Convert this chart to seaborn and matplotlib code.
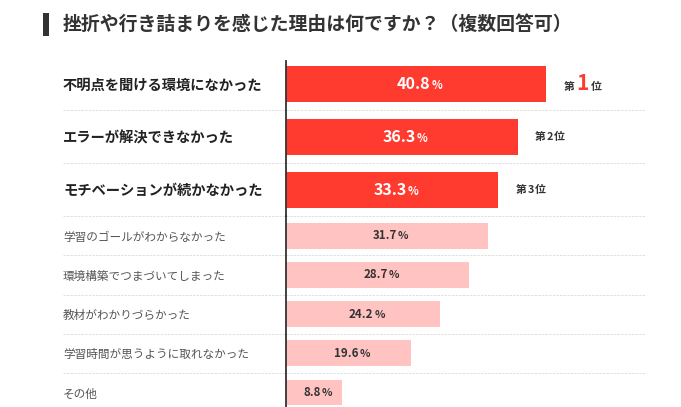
import matplotlib
matplotlib.use("Agg")
import matplotlib.pyplot as plt
import seaborn as sns
import pandas as pd
from matplotlib.offsetbox import TextArea, HPacker, AnnotationBbox
from matplotlib.transforms import blended_transform_factory
from matplotlib.patches import Rectangle

# ---- data ----
title = "挫折や行き詰まりを感じた理由は何ですか？（複数回答可）"
top_labels = ["不明点を聞ける環境になかった", "エラーが解決できなかった", "モチベーションが続かなかった"]
top_values = [40.8, 36.3, 33.3]
top_ranks = ["1", "2", "3"]
other_labels = ["学習のゴールがわからなかった", "環境構築でつまづいてしまった", "教材がわかりづらかった",
                "学習時間が思うように取れなかった", "その他"]
other_values = [31.7, 28.7, 24.2, 19.6, 8.8]

RED = "#ff3b30"
PINK = "#ffc3c1"

sns.set_theme(style="white")
plt.rcParams["font.family"] = ["Noto Sans CJK JP", "DejaVu Sans"]

W, H = 681, 407
fig = plt.figure(figsize=(W / 100, H / 100), dpi=100)
fig.patch.set_facecolor("white")

x0 = 286
ppu = 6.38
xmax = 60
axw = xmax * ppu / W


def px_axes(top_px, bottom_px):
    return [x0 / W, (H - bottom_px) / H, axw, (bottom_px - top_px) / H]


ax1 = fig.add_axes(px_axes(57.4, 216.1))
ax2 = fig.add_axes(px_axes(216.1, 412.1))

df_top = pd.DataFrame({"label": top_labels, "value": top_values})
df_oth = pd.DataFrame({"label": other_labels, "value": other_values})

sns.barplot(data=df_top, x="value", y="label", orient="h", color=RED, saturation=1,
            width=0.675, linewidth=0, ax=ax1)
sns.barplot(data=df_oth, x="value", y="label", orient="h", color=PINK, saturation=1,
            width=0.655, linewidth=0, ax=ax2)

pad_pt = (x0 - 63) * 72 / 100
for ax, n, fs, fw, col in [(ax1, 3, 10.3, "bold", "#222222"), (ax2, 5, 8.4, "normal", "#555555")]:
    ax.set_xlim(0, xmax)
    ax.set_ylim(n - 0.5, -0.5)
    ax.set_xlabel("")
    ax.set_ylabel("")
    ax.set_xticks([])
    ax.set_facecolor("none")
    for s in ["top", "right", "bottom"]:
        ax.spines[s].set_visible(False)
    ax.spines["left"].set_color("#333333")
    ax.spines["left"].set_linewidth(1.3)
    ax.tick_params(axis="y", length=0, pad=pad_pt)
    for lbl in ax.get_yticklabels():
        lbl.set_horizontalalignment("left")
        lbl.set_fontsize(fs)
        lbl.set_fontweight(fw)
        lbl.set_color(col)
    # dashed separators
    tr = blended_transform_factory(fig.transFigure, ax.transData)
    ys = [i + 0.5 for i in range(n - 1)]
    if ax is ax1:
        ys.append(n - 0.5)
    for y in ys:
        ax.plot([63 / W, 646 / W], [y, y], transform=tr, color="#e0e0e0", lw=0.7,
                ls=(0, (2.5, 1.2)), clip_on=False, zorder=0)

ax1.spines["left"].set_bounds(2.5, -0.43)

# value labels
for ax, vals, numfs, pctfs, col in [(ax1, top_values, 11.5, 8, "white"), (ax2, other_values, 8.3, 7.8, "#333333")]:
    for p, v in zip(ax.patches, vals):
        cx = p.get_x() + p.get_width() / 2
        cy = p.get_y() + p.get_height() / 2
        t1 = TextArea(f"{v:.1f}", textprops=dict(color=col, fontsize=numfs, fontweight="bold"))
        t2 = TextArea("%", textprops=dict(color=col, fontsize=pctfs, fontweight="bold"))
        box = HPacker(children=[t1, t2], align="baseline", pad=0, sep=0.8)
        ab = AnnotationBbox(box, (cx, cy), xycoords="data", xybox=(2.5, 0), boxcoords="offset points",
                            frameon=False, box_alignment=(0.5, 0.5), pad=0)
        ax.add_artist(ab)

# rank labels
for p, r in zip(ax1.patches, top_ranks):
    ex = p.get_x() + p.get_width()
    cy = p.get_y() + p.get_height() / 2
    small = dict(color="#333333", fontsize=7.8, fontweight="bold")
    if r == "1":
        mid = TextArea(r, textprops=dict(color=RED, fontsize=15, fontweight="bold"))
        sep = 1.5
    else:
        mid = TextArea(r, textprops=small)
        sep = 0.5
    box = HPacker(children=[TextArea("第", textprops=small), mid, TextArea("位", textprops=small)],
                  align="baseline", pad=0, sep=sep)
    ab = AnnotationBbox(box, (ex, cy), xycoords="data", xybox=(12.5, 0), boxcoords="offset points",
                        frameon=False, box_alignment=(0, 0.5), pad=0)
    ax1.add_artist(ab)

# title
fig.patches.append(Rectangle((43.3 / W, 1 - 35.7 / H), 6 / W, 23 / H, transform=fig.transFigure,
                             facecolor="#333333", edgecolor="none"))
fig.text(63 / W, 1 - 24.5 / H, title, fontsize=13.6, fontweight="bold", color="#333333", va="center", ha="left")

fig.savefig("out.png", dpi=100, facecolor="white")
